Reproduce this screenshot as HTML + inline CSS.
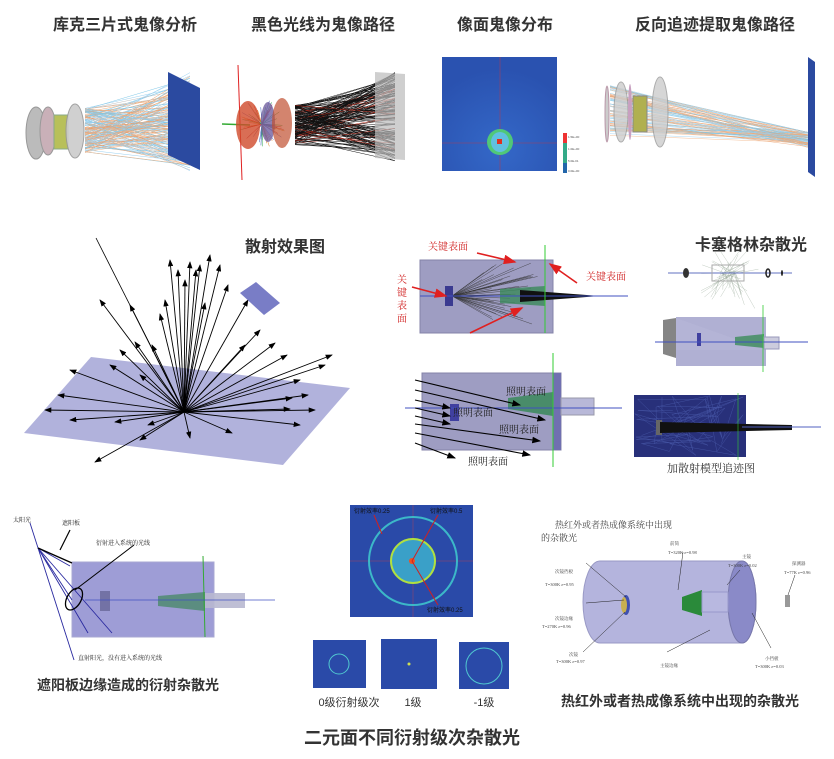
<!DOCTYPE html>
<html><head><meta charset="utf-8"><style>
html,body{margin:0;padding:0;background:#fff}
svg{display:block}
.t{font-family:"Liberation Sans","Noto Sans CJK SC",sans-serif;font-weight:bold;fill:#333}
.s{font-family:"Liberation Serif","Noto Serif CJK SC",serif}
</style></head><body>
<svg id="sv" width="834" height="759" viewBox="0 0 834 759" xmlns="http://www.w3.org/2000/svg">
<defs>
<marker id="ah" markerWidth="8" markerHeight="6" refX="7" refY="3" orient="auto"><path d="M0,0 L8,3 L0,6 z" fill="#000"/></marker>
<marker id="ar" markerWidth="8" markerHeight="6" refX="7" refY="3" orient="auto"><path d="M0,0 L8,3 L0,6 z" fill="#e02020"/></marker>
<radialGradient id="hm" cx="50%" cy="80%" r="70%"><stop offset="0" stop-color="#3468c8"/><stop offset="1" stop-color="#2a52b0"/></radialGradient>
</defs>
<text class="t" x="125" y="30" font-size="16" text-anchor="middle">库克三片式鬼像分析</text>
<text class="t" x="323" y="30" font-size="16" text-anchor="middle">黑色光线为鬼像路径</text>
<text class="t" x="505" y="30" font-size="16" text-anchor="middle">像面鬼像分布</text>
<text class="t" x="715" y="30" font-size="16" text-anchor="middle">反向追迹提取鬼像路径</text>

<g id="p1rays"></g>
<polygon points="168,72 200,88 200,170 168,155" fill="#2b4aa0"/>
<ellipse cx="36" cy="133" rx="10" ry="26" fill="#bbb" stroke="#999"/>
<ellipse cx="48" cy="131" rx="8" ry="24" fill="#c9b0b8" stroke="#999"/>
<rect x="54" y="115" width="14" height="34" fill="#b8c05a" stroke="#8a8"/>
<ellipse cx="75" cy="131" rx="9" ry="27" fill="#ccc" stroke="#999" opacity=".9"/>

<g id="p2rays"></g>
<polygon points="375,72 405,74 405,160 375,158" fill="#bbb" opacity=".7"/>
<line x1="238" y1="65" x2="242" y2="180" stroke="#e02020" stroke-width="1"/>
<line x1="222" y1="124" x2="250" y2="125" stroke="#3a3" stroke-width="1.5"/>
<ellipse cx="248" cy="125" rx="12" ry="24" fill="#d04a2a" opacity=".8"/>
<ellipse cx="268" cy="122" rx="7" ry="20" fill="#7060a0" opacity=".8"/>
<ellipse cx="282" cy="123" rx="10" ry="25" fill="#c05030" opacity=".7"/>

<rect x="442" y="57" width="115" height="114" fill="url(#hm)"/>
<line x1="500" y1="57" x2="500" y2="171" stroke="#a04060" stroke-width=".6"/>
<line x1="442" y1="143" x2="557" y2="143" stroke="#a04060" stroke-width=".6"/>
<ellipse cx="500" cy="142" rx="13" ry="13" fill="#50c878"/>
<ellipse cx="500" cy="142" rx="9" ry="10" fill="#60c0e0"/>
<rect x="497" y="139" width="5" height="5" fill="#e03020"/>
<rect x="563" y="133" width="4" height="40" fill="#3a8"/>
<rect x="563" y="133" width="4" height="10" fill="#e33"/>
<rect x="563" y="163" width="4" height="10" fill="#26a"/>
<g font-size="3" fill="#555" font-family="Liberation Sans"><text x="568" y="138">1.5E+00</text><text x="568" y="150">1.0E+00</text><text x="568" y="162">5.0E-01</text><text x="568" y="172">0.0E+00</text></g>

<g id="p4rays"></g>
<polygon points="808,57 815,62 815,177 808,172" fill="#2b4aa0"/>
<ellipse cx="607" cy="114" rx="2" ry="28" fill="#ccc" stroke="#b9a"/>
<ellipse cx="621" cy="112" rx="7" ry="30" fill="#ccc" opacity=".8" stroke="#999"/>
<ellipse cx="630" cy="112" rx="2" ry="28" fill="#c8a0c0"/>
<rect x="633" y="96" width="14" height="36" fill="#b0b050" stroke="#888"/>
<ellipse cx="660" cy="112" rx="8" ry="35" fill="#ccc" opacity=".8" stroke="#999"/>

<text class="t" x="285" y="252" font-size="16" text-anchor="middle">散射效果图</text>
<polygon points="24,433 91,357 350,388 283,465" fill="#a8aad8" opacity=".9"/>
<line x1="96" y1="238" x2="184" y2="412" stroke="#000" stroke-width=".8"/>
<g id="scat" stroke="#000" stroke-width=".9"></g>
<polygon points="240,293 256,282 280,303 264,315" fill="#6a6fc0" opacity=".9"/>

<rect x="420" y="260" width="133" height="73" fill="#8e8cb8" opacity=".85" stroke="#6f6e9a"/>
<g id="pArays"></g>
<rect x="445" y="286" width="8" height="20" fill="#3a3a90"/>
<polygon points="500,289 545,286 545,306 500,303" fill="#3a8a5a" opacity=".8"/>
<polygon points="520,290 600,296 520,302" fill="#111"/>
<line x1="420" y1="296" x2="628" y2="296" stroke="#4050c0" stroke-width="1"/>
<line x1="545" y1="245" x2="545" y2="333" stroke="#3c3" stroke-width="1"/>
<g class="s" fill="#d02020" font-size="10"><text x="428" y="250">关键表面</text><text x="586" y="280">关键表面</text>
<text x="397" y="283">关</text><text x="397" y="296">键</text><text x="397" y="309">表</text><text x="397" y="322">面</text></g>
<g stroke="#e02020" stroke-width="1.6" marker-end="url(#ar)"><line x1="477" y1="253" x2="515" y2="262"/><line x1="577" y1="283" x2="550" y2="264"/><line x1="412" y1="287" x2="446" y2="296"/><line x1="470" y1="333" x2="522" y2="308"/></g>

<text class="t" x="751" y="250" font-size="16" text-anchor="middle">卡塞格林杂散光</text>
<g id="cas"></g>
<line x1="668" y1="273" x2="792" y2="273" stroke="#6070c0"/>
<ellipse cx="686" cy="273" rx="3" ry="5" fill="#333"/>
<rect x="712" y="265" width="32" height="16" fill="none" stroke="#aaa"/>
<ellipse cx="768" cy="273" rx="2" ry="4" fill="none" stroke="#222" stroke-width="1.5"/>
<ellipse cx="782" cy="273" rx="1" ry="3" fill="#222"/>
<polygon points="663,320 676,318 676,358 663,354" fill="#666" opacity=".8"/>
<rect x="676" y="317" width="90" height="49" fill="#9c9cc8" opacity=".8"/>
<polygon points="676,318 766,350 676,350" fill="#b8b8d8" opacity=".6"/>
<rect x="697" y="333" width="4" height="13" fill="#4040a0"/>
<polygon points="735,337 764,334 764,348 735,345" fill="#3c8c5a" opacity=".8"/>
<rect x="764" y="337" width="15" height="12" fill="#ccd" stroke="#99b"/>
<line x1="655" y1="342" x2="808" y2="342" stroke="#4050c0"/>
<line x1="763" y1="305" x2="763" y2="372" stroke="#3c3" stroke-width=".8"/>

<rect x="422" y="373" width="139" height="77" fill="#8e8cb8" opacity=".85" stroke="#6f6e9a"/>
<rect x="553" y="373" width="8" height="77" fill="#7070b0"/>
<polygon points="508,398 553,392 553,416 508,409" fill="#3a8a5a" opacity=".85"/>
<rect x="561" y="398" width="33" height="17" fill="#b8b8d8" stroke="#99a"/>
<rect x="450" y="404" width="9" height="17" fill="#4040a0"/>
<line x1="405" y1="408" x2="622" y2="408" stroke="#4050c0"/>
<line x1="553" y1="353" x2="553" y2="467" stroke="#3c3"/>
<g stroke="#000" stroke-width="1.1" marker-end="url(#ah)">
<line x1="415" y1="380" x2="520" y2="405"/><line x1="415" y1="390" x2="545" y2="420"/><line x1="415" y1="400" x2="450" y2="408"/><line x1="415" y1="408" x2="450" y2="416"/><line x1="415" y1="416" x2="450" y2="424"/><line x1="415" y1="424" x2="540" y2="441"/><line x1="415" y1="433" x2="530" y2="455"/><line x1="415" y1="443" x2="455" y2="458"/></g>
<g class="s" fill="#222" font-size="10"><text x="506" y="395">照明表面</text><text x="453" y="416">照明表面</text><text x="499" y="433">照明表面</text><text x="468" y="465">照明表面</text></g>

<rect x="634" y="395" width="112" height="62" fill="#28307a"/>
<g id="pDrays"></g>
<rect x="656" y="420" width="6" height="15" fill="#666"/>
<polygon points="660,422 792,425 792,430 660,433" fill="#111"/>
<line x1="742" y1="427" x2="821" y2="427" stroke="#5060c0"/>
<line x1="738" y1="393" x2="738" y2="460" stroke="#3c3" stroke-width=".6"/>
<text class="s" x="711" y="472" font-size="11" fill="#333" text-anchor="middle">加散射模型追迹图</text>

<rect x="72" y="562" width="142" height="75" fill="#8e8cd0" opacity=".85" stroke="#9999cc"/>
<rect x="100" y="591" width="10" height="20" fill="#6e6ea0" opacity=".9"/>
<polygon points="158,596 205,592 205,611 158,606" fill="#4a8a6a" opacity=".8"/>
<rect x="205" y="593" width="40" height="15" fill="#b8b8d0" opacity=".9"/>
<line x1="203" y1="556" x2="205" y2="637" stroke="#3a3" stroke-width="1"/>
<line x1="85" y1="600" x2="275" y2="600" stroke="#4050c0" stroke-width=".7"/>
<g stroke="#2a2aa0" stroke-width=".9"><line x1="30" y1="523" x2="74" y2="660"/><line x1="38" y1="548" x2="88" y2="633"/><line x1="38" y1="548" x2="112" y2="633"/><line x1="38" y1="548" x2="72" y2="600"/><line x1="38" y1="548" x2="70" y2="566"/></g>
<line x1="38" y1="548" x2="72" y2="563" stroke="#000" stroke-width="1.3"/>
<ellipse cx="74" cy="599" rx="7" ry="12" transform="rotate(30 74 599)" fill="none" stroke="#000" stroke-width="1.3"/>
<line x1="75" y1="590" x2="134" y2="545" stroke="#000"/>
<line x1="60" y1="550" x2="70" y2="530" stroke="#000" stroke-width="1.2"/>
<g class="s" font-size="6" fill="#222"><text x="13" y="522">太阳光</text><text x="62" y="525">遮阳板</text><text x="96" y="545">衍射进入系统的光线</text><text x="78" y="660">直射阳光，没有进入系统的光线</text></g>
<text class="t" x="128" y="690" font-size="14" text-anchor="middle">遮阳板边缘造成的衍射杂散光</text>

<rect x="350" y="505" width="123" height="112" fill="#2a4aa8"/>
<line x1="413" y1="505" x2="413" y2="617" stroke="#a04060" stroke-width=".5"/>
<line x1="350" y1="561" x2="473" y2="561" stroke="#a04060" stroke-width=".5"/>
<circle cx="413" cy="561" r="44" fill="none" stroke="#3cb8c8" stroke-width="2"/>
<circle cx="413" cy="561" r="22" fill="#3aa0c8" stroke="#b0e040" stroke-width="2"/>
<circle cx="412" cy="561" r="3" fill="#f05020"/>
<g stroke="#d02020" stroke-width="1"><line x1="412" y1="561" x2="438" y2="515"/><line x1="412" y1="561" x2="438" y2="605"/><line x1="382" y1="534" x2="374" y2="515"/></g>
<g font-size="6" fill="#111" font-family="Liberation Sans,Noto Sans CJK SC,sans-serif"><text x="354" y="513">衍射效率0.25</text><text x="430" y="513">衍射效率0.5</text><text x="427" y="612">衍射效率0.25</text></g>
<rect x="313" y="640" width="53" height="48" fill="#2a4aa8"/><circle cx="339" cy="664" r="10" fill="none" stroke="#50c8d0" stroke-width="1"/>
<rect x="381" y="639" width="56" height="50" fill="#2a4aa8"/><circle cx="409" cy="664" r="1.5" fill="#d0e050"/>
<rect x="459" y="642" width="50" height="47" fill="#2a4aa8"/><circle cx="484" cy="666" r="18" fill="none" stroke="#50c8d0" stroke-width="1"/>
<g font-family="Liberation Sans,Noto Sans CJK SC,sans-serif" font-size="11" fill="#333" text-anchor="middle"><text x="349" y="706">0级衍射级次</text><text x="413" y="706">1级</text><text x="484" y="706">-1级</text></g>
<text class="t" x="412" y="744" font-size="18" text-anchor="middle">二元面不同衍射级次杂散光</text>

<path d="M600,561 L742,561 A14,41 0 0 1 742,643 L600,643 A17,41 0 0 1 600,561 z" fill="#a8a8d8" opacity=".85" stroke="#8888bb"/>
<ellipse cx="742" cy="602" rx="14" ry="41" fill="#8a8ac8" stroke="#7777aa"/>
<ellipse cx="626" cy="605" rx="4" ry="10" fill="#4050b0"/>
<ellipse cx="624" cy="605" rx="3" ry="8" fill="#c8b050"/>
<polygon points="682,597 702,590 702,616 682,610" fill="#2a8a3a"/>
<rect x="702" y="592" width="26" height="20" fill="#b8b8e0" stroke="#9999cc"/>
<rect x="785" y="595" width="5" height="12" fill="#999"/>
<g stroke="#222" stroke-width=".5"><line x1="586" y1="563" x2="626" y2="597"/><line x1="586" y1="603" x2="624" y2="600"/><line x1="583" y1="652" x2="625" y2="612"/><line x1="683" y1="552" x2="678" y2="590"/><line x1="740" y1="570" x2="727" y2="585"/><line x1="667" y1="652" x2="710" y2="630"/><line x1="771" y1="648" x2="752" y2="613"/><line x1="795" y1="575" x2="788" y2="595"/></g>
<g class="s" font-size="4.5" fill="#444"><text x="555" y="573">次镜挡板</text><text x="545" y="586">T=300K ε=0.95</text><text x="569" y="656">次镜</text><text x="556" y="663">T=300K ε=0.97</text><text x="670" y="545">前筒</text><text x="668" y="554">T=320K ε=0.98</text><text x="742" y="558">主镜</text><text x="728" y="567">T=300K ε=0.02</text><text x="792" y="565">探测器</text><text x="784" y="574">T=77K ε=0.96</text><text x="660" y="667">主镜边缘</text><text x="765" y="660">小挡板</text><text x="755" y="668">T=300K ε=0.03</text><text x="555" y="620">次镜边缘</text><text x="542" y="628">T=270K ε=0.96</text></g>
<text class="s" x="555" y="528" font-size="9" fill="#444">热红外或者热成像系统中出现</text>
<text class="s" x="541" y="541" font-size="9" fill="#444">的杂散光</text>
<text class="t" x="680" y="706" font-size="14" text-anchor="middle">热红外或者热成像系统中出现的杂散光</text>
</svg>
<script>
(function(){
var NS="http://www.w3.org/2000/svg";
function R(a){var s=Math.sin(a*9301+49297)*233280;return s-Math.floor(s);}
function L(g,x1,y1,x2,y2,c,w,extra){var l=document.createElementNS(NS,"line");l.setAttribute("x1",x1);l.setAttribute("y1",y1);l.setAttribute("x2",x2);l.setAttribute("y2",y2);l.setAttribute("stroke",c);l.setAttribute("stroke-width",w||.4);if(extra)for(var k in extra)l.setAttribute(k,extra[k]);document.getElementById(g).appendChild(l);}
var cols=["#e8a070","#80c8e8","#f0b080","#9ad0f0","#c0c0c0"];
for(var i=0;i<160;i++){var y=108+R(i)*45,y2=72+R(i+500)*92;L("p1rays",85,y,190,y2+(R(i+3)*10),cols[i%5],.5);}
for(var i=0;i<160;i++){var y=105+R(i+7)*40,y2=72+R(i+900)*90;L("p2rays",295,y,395,y2,i%9==0?"#c03020":"#111",.5);}
for(var i=0;i<60;i++){var c=["#d02020","#20a040","#e08020","#4060c0"][i%4];var a=R(i+11)*6.28,r=12+R(i+13)*14;L("p2rays",262,124,262+Math.cos(a)*r,124+Math.sin(a)*r,c,.5);}
for(var i=0;i<80;i++){var y=85+R(i+21)*55;L("p4rays",610,y,808,132+R(i+31)*16,cols[i%4],.4);}
var tips=[[95,462],[45,410],[58,395],[70,370],[110,365],[140,375],[120,350],[100,300],[130,305],[165,300],[170,260],[178,270],[185,280],[190,262],[196,270],[200,265],[210,255],[220,265],[228,285],[248,300],[245,345],[260,330],[275,343],[300,380],[287,355],[325,365],[308,395],[292,398],[290,409],[315,410],[332,355],[300,425],[148,425],[115,422],[70,420],[140,440],[190,438],[232,433],[160,314],[152,345],[135,342],[205,303]];
tips.forEach(function(t){L("scat",184,412,t[0],t[1],"#000",.9,{"marker-end":"url(#ah)"});});
for(var i=0;i<40;i++){L("pArays",452,296,480+R(i+41)*65,262+R(i+43)*70,"#333",.4);}
for(var i=0;i<50;i++){L("cas",720+R(i+51)*20,273,700+R(i+53)*60,250+R(i+55)*60,"#9a9",.3);}
for(var i=0;i<60;i++){L("pDrays",634+R(i+61)*112,395+R(i+63)*62,634+R(i+65)*112,395+R(i+67)*62,"#4858a8",.4);}
})();
</script>
</body></html>
